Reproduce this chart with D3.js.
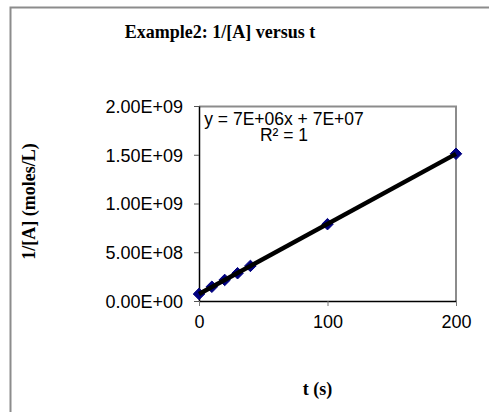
<!DOCTYPE html>
<html>
<head>
<meta charset="utf-8">
<script src="https://cdn.jsdelivr.net/npm/d3@7"></script>
<style>
  body { margin: 0; background: #fff; }
  .tick text { font-family: "Liberation Sans", Arial, sans-serif; font-size: 18px; fill: #000; }
  .title, .axis-label { font-family: "Liberation Serif", "Times New Roman", serif; font-weight: bold; font-size: 18px; }
  .eq { font-family: "Liberation Sans", Arial, sans-serif; font-size: 17.5px; }
</style>
</head>
<body>
<svg width="489" height="412"></svg>
<script>
// data
const times = [0, 10, 20, 30, 40, 100, 200];
const invA = [7.2e7, 1.46e8, 2.16e8, 2.85e8, 3.6e8, 7.88e8, 1.51e9];
const yTicks = [0, 5e8, 1e9, 1.5e9, 2e9];
const xTicks = [0, 100, 200];
const eqLines = ['y = 7E+06x + 7E+07', 'R² = 1'];

const svg = d3.select('svg');
const width = +svg.attr('width');
const height = +svg.attr('height');

const title = 'Example2: 1/[A] versus t';
const xAxisLabel = 't (s)';
const yAxisLabel = '1/[A] (moles/L)';

const margin = {top: 106, right: 33, bottom: 111, left: 199};
const innerWidth = width - margin.left - margin.right;
const innerHeight = height - margin.top - margin.bottom;

const data = times.map((t, i) => ({t, v: invA[i]}));

// outer chart border (runs off the right and bottom of the picture)
svg.append('path')
    .attr('d', `M10.5,${height}V7.5H${width}`)
    .attr('fill', 'none')
    .attr('stroke', '#8c8c8c')
    .attr('stroke-width', 2);

svg.append('text')
    .attr('class', 'title')
    .attr('x', 220)
    .attr('y', 38)
    .attr('text-anchor', 'middle')
    .text(title);

const xScale = d3.scaleLinear().domain([0, 200]).range([0, innerWidth]);
const yScale = d3.scaleLinear().domain([0, 2e9]).range([innerHeight, 0]);

const sci = v => {
    if (v === 0) return '0.00E+00';
    const e = Math.floor(Math.log10(v));
    const m = v / Math.pow(10, e);
    return m.toFixed(2) + 'E+' + String(e).padStart(2, '0');
};

const g = svg.append('g')
    .attr('transform', `translate(${margin.left},${margin.top})`);

// plot area border (top + right)
g.append('path')
    .attr('d', `M0,0.5H${innerWidth}V${innerHeight}`)
    .attr('fill', 'none')
    .attr('stroke', '#8c8c8c')
    .attr('stroke-width', 2);

const yAxis = d3.axisLeft(yScale)
    .tickValues(yTicks)
    .tickFormat(sci)
    .tickSizeInner(5)
    .tickSizeOuter(0)
    .tickPadding(11);

const yAxisG = g.append('g').call(yAxis);
yAxisG.select('.domain').attr('stroke', '#000').attr('stroke-width', 1.5);
yAxisG.selectAll('.tick line').attr('stroke', '#555');
yAxisG.selectAll('.tick text').attr('dy', '0.36em');

yAxisG.append('text')
    .attr('class', 'axis-label')
    .attr('x', -innerHeight / 2 + 2)
    .attr('y', -164)
    .attr('fill', 'black')
    .attr('transform', 'rotate(-90)')
    .attr('text-anchor', 'middle')
    .text(yAxisLabel);

const xAxis = d3.axisBottom(xScale)
    .tickValues(xTicks)
    .tickFormat(d3.format('d'))
    .tickSizeInner(5)
    .tickSizeOuter(0)
    .tickPadding(9);

const xAxisG = g.append('g').call(xAxis)
    .attr('transform', `translate(0,${innerHeight})`);
xAxisG.select('.domain').attr('stroke', '#000').attr('stroke-width', 1.5);
xAxisG.selectAll('.tick line').attr('stroke', '#777');

xAxisG.append('text')
    .attr('class', 'axis-label')
    .attr('x', innerWidth / 2 - 10)
    .attr('y', 94)
    .attr('fill', 'black')
    .attr('text-anchor', 'middle')
    .text(xAxisLabel);

// markers
g.selectAll('path.marker').data(data)
  .enter().append('path')
    .attr('class', 'marker')
    .attr('d', d3.symbol(d3.symbolDiamond2, 85))
    .attr('transform', d => `translate(${xScale(d.t)},${yScale(d.v)})`)
    .attr('fill', '#000080')
    .attr('stroke', '#000080');

// linear trendline (least squares)
const mx = d3.mean(data, d => d.t);
const my = d3.mean(data, d => d.v);
const slope = d3.sum(data, d => (d.t - mx) * (d.v - my)) / d3.sum(data, d => (d.t - mx) ** 2);
const intercept = my - slope * mx;
const trend = xScale.domain().map(t => ({t, v: intercept + slope * t}));

const lineGenerator = d3.line()
    .x(d => xScale(d.t))
    .y(d => yScale(d.v));

g.append('path')
    .attr('d', lineGenerator(trend))
    .attr('fill', 'none')
    .attr('stroke', '#000')
    .attr('stroke-width', 4.5);

// trendline equation
const eq = g.append('text')
    .attr('class', 'eq')
    .attr('text-anchor', 'middle');
eq.selectAll('tspan').data(eqLines)
  .enter().append('tspan')
    .attr('x', 85)
    .attr('y', (d, i) => 19 + i * 15.5)
    .text(d => d);
</script>
</body>
</html>
